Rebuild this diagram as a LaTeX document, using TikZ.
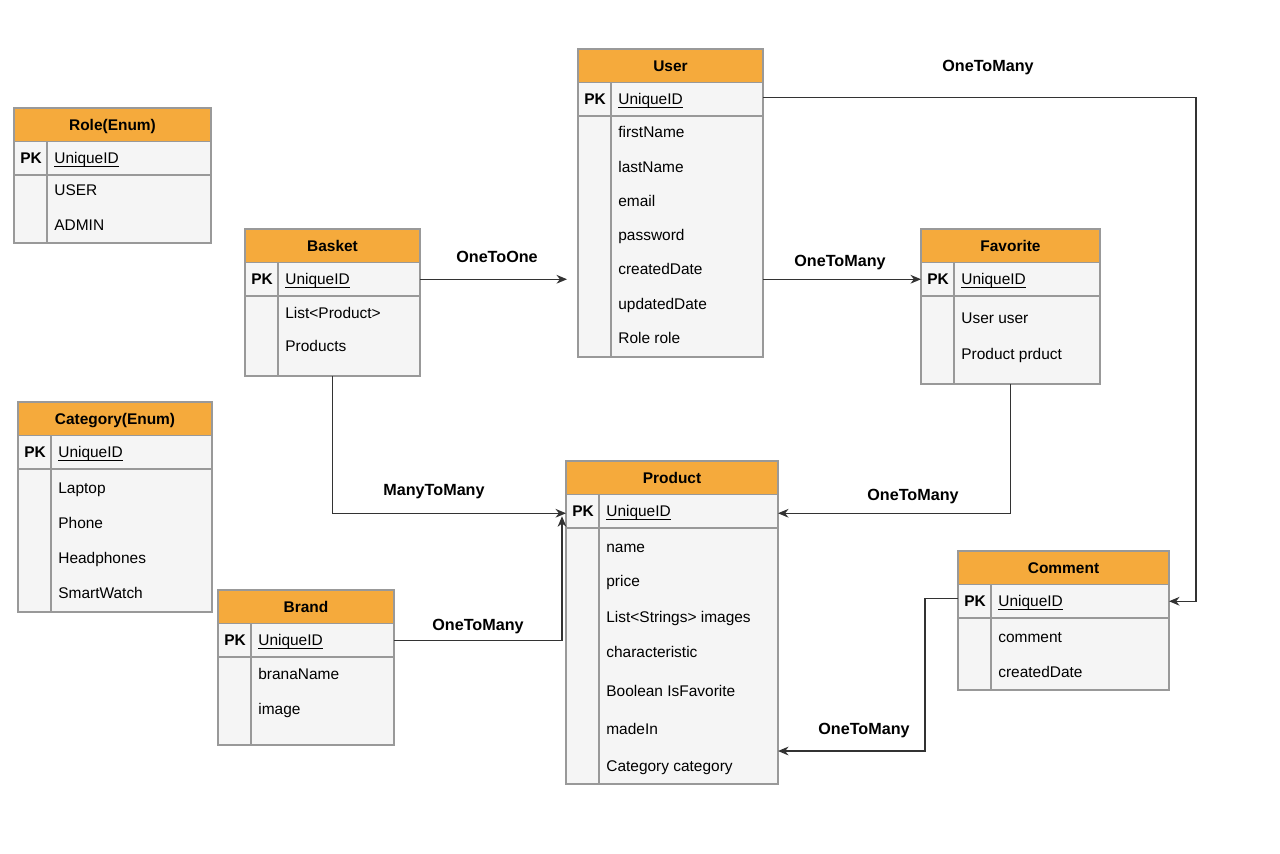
\documentclass[tikz,border=0pt]{standalone}
\usepackage{fontspec}
\setmainfont{Liberation Sans}
\usetikzlibrary{positioning}
\usetikzlibrary{arrows.meta}

\definecolor{headorange}{HTML}{F5AA3C}
\definecolor{bodygray}{HTML}{F5F5F5}
\definecolor{boxgray}{HTML}{999999}
\definecolor{linkgray}{HTML}{333333}

\newcommand{\pix}{*0.02cm}
% key field: thin line just under the baseline
\newcommand{\keyline}[1]{\setbox0\hbox{#1}\rlap{\rule[-1.5pt]{\wd0}{0.45pt}}\box0}
% one entity: name, title, left, top, width, body height
\newcommand{\ertable}[6]{%
	\node (#1) [head, minimum width=#5\pix] at (#3,#4) {#2};
	\node (#1pk) [pkrow, minimum width=#5\pix] at (#1.south west) {};
	\node (#1body) [fieldrow, minimum width=#5\pix, minimum height=#6\pix] at (#1pk.south west) {};
	\draw [sepline] ([xshift=33\pix]#1pk.north west) -- ([xshift=33\pix]#1body.south west);
	\node [pktext] at ([xshift=17\pix]#1pk.west) {PK};
	\node [fieldtext] at ([xshift=40\pix]#1pk.west) {\keyline{UniqueID}};
}

\begin{document}
\begin{tikzpicture}[x = 0.02cm, y = -0.02cm,
		every node/.style = {font = \fontsize{8.8}{10.5}\selectfont},
		head/.style = {draw = boxgray, fill = headorange, line width = 0.65pt, anchor = north west, inner sep = 0pt, outer sep = 0pt, minimum height = 33.5\pix, text height = 6.3pt, text depth = 0pt, font = \fontsize{8.8}{10.5}\selectfont\bfseries},
		pkrow/.style = {draw = boxgray, fill = bodygray, line width = 0.65pt, anchor = north west, inner sep = 0pt, outer sep = 0pt, minimum height = 33.5\pix},
		fieldrow/.style = {draw = boxgray, fill = bodygray, line width = 0.65pt, anchor = north west, inner sep = 0pt, outer sep = 0pt},
		sepline/.style = {boxgray, line width = 0.65pt},
		pktext/.style = {inner sep = 0pt, text height = 6.3pt, text depth = 0pt, font = \fontsize{8.8}{10.5}\selectfont\bfseries},
		fieldtext/.style = {anchor = west, inner sep = 0pt, text height = 6.3pt, text depth = 0pt},
		link/.style = {linkgray, line width = 0.6pt, -{Stealth[length = 6pt, width = 5pt]}},
		linklabel/.style = {inner sep = 1pt, font = \fontsize{9.2}{11}\selectfont\bfseries}]
	\useasboundingbox [fill = white] (0, 0) rectangle (1280, 853);

	% entities
	\ertable{role}{Role(Enum)}{14}{108}{197}{68}
	\foreach \t/\y in {USER/190, ADMIN/225}
		\node [fieldtext] at (54, \y) {\t};

	\ertable{user}{User}{578}{49}{185}{241}
	\foreach \t/\y in {firstName/132, lastName/167, email/201, password/235, createdDate/269, updatedDate/304, Role role/338}
		\node [fieldtext] at (618, \y) {\t};

	\ertable{basket}{Basket}{245}{229}{175}{80}
	\foreach \t/\y in {List<Product>/313, Products/346}
		\node [fieldtext] at (285, \y) {\t};

	\ertable{favorite}{Favorite}{921}{229}{179}{88}
	\foreach \t/\y in {User user/318, Product prduct/354}
		\node [fieldtext] at (961, \y) {\t};

	\ertable{category}{Category(Enum)}{18}{402}{194}{143}
	\foreach \t/\y in {Laptop/488, Phone/523, Headphones/558, SmartWatch/593}
		\node [fieldtext] at (58, \y) {\t};

	\ertable{brand}{Brand}{218}{590}{176}{88}
	\foreach \t/\y in {branaName/674, image/709}
		\node [fieldtext] at (258, \y) {\t};

	\ertable{product}{Product}{566}{461}{212}{256}
	\foreach \t/\y in {name/547, price/581, List<Strings> images/617, characteristic/652, Boolean IsFavorite/691, madeIn/729, Category category/766}
		\node [fieldtext] at (606, \y) {\t};

	\ertable{comment}{Comment}{958}{551}{211}{72}
	\foreach \t/\y in {comment/637, createdDate/672}
		\node [fieldtext] at (998, \y) {\t};

	% relations
	\coordinate (productin) at (778, 751);
	\draw [link] ([yshift = 2\pix]userpk.east) -- ++(433, 0) |- (commentpk.east);
	\draw [link, shorten > = 11\pix] (basketpk.east) -- (basketpk.east -| user.west);
	\draw [link] (favoritepk.west -| userbody.east) -- (favoritepk.west);
	\draw [link] (favoritebody.south) |- ([yshift = -2\pix]productpk.east);
	\draw [link] (basketbody.south) |- ([yshift = -2\pix]productpk.west);
	\draw [link] (brandpk.east) -| ([xshift = -4\pix, yshift = -5\pix]productpk.west);
	\draw [link] ([yshift = 3\pix]commentpk.west) -- ++(-33, 0) |- (productin);

	\node [linklabel] (usercommentlabel) at (988, 68) {OneToMany};
	\node [linklabel] (basketuserlabel) at (497, 257) {OneToOne};
	\node [linklabel] (userfavoritelabel) at (840, 263) {OneToMany};
	\node [linklabel] (favoriteproductlabel) at (913, 497) {OneToMany};
	\node [linklabel] (basketproductlabel) at (434, 492) {ManyToMany};
	\node [linklabel] (brandproductlabel) at (478, 627) {OneToMany};
	\node [linklabel] (commentproductlabel) at (864, 731) {OneToMany};
\end{tikzpicture}
\end{document}
